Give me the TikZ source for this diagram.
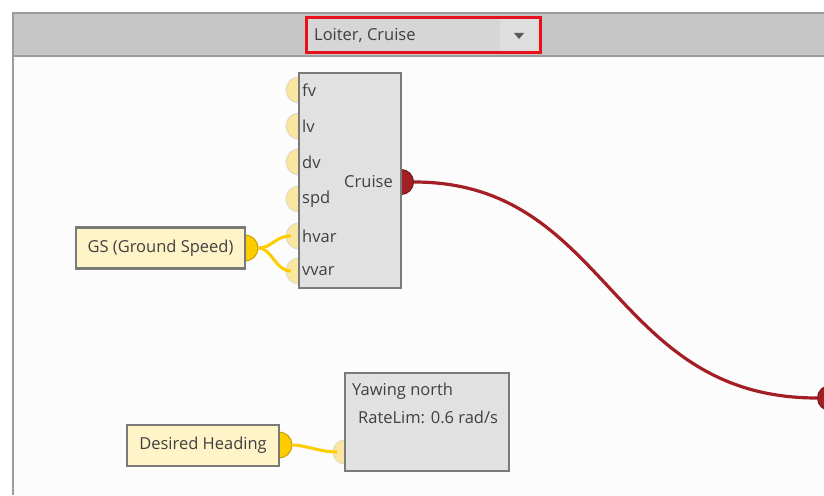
\documentclass[tikz,border=0pt]{standalone}
\usepackage{fontspec}
\setmainfont{Open Sans}
\usepackage{xcolor}
\usetikzlibrary{positioning,calc}

\definecolor{hdrgray}{HTML}{C6C6C6}
\definecolor{framegray}{HTML}{9C9C9C}
\definecolor{canvasbg}{HTML}{FCFCFC}
\definecolor{boxfill}{HTML}{E1E1E1}
\definecolor{boxline}{HTML}{7A7A7A}
\definecolor{inport}{HTML}{FAE6A0}
\definecolor{inportline}{HTML}{E2DBBE}
\definecolor{gold}{HTML}{FFCC00}
\definecolor{goldline}{HTML}{C9A200}
\definecolor{srcfill}{HTML}{FFF3C8}
\definecolor{wirered}{HTML}{A31F24}
\definecolor{ddred}{HTML}{E8101A}
\definecolor{txtgray}{HTML}{404040}

\tikzset{
  blockbox/.style={draw=boxline, line width=2.4pt, fill=boxfill},
  srcbox/.style={draw=boxline, line width=2.4pt, fill=srcfill, text=txtgray,
    minimum height=41pt, inner sep=0pt, font=\fontsize{16.5}{19}\selectfont},
  inputport/.style={circle, fill=inport, draw=inportline, line width=1pt, minimum size=26pt, inner sep=0pt},
  srcport/.style={circle, fill=gold, draw=goldline, line width=1pt, minimum size=26pt, inner sep=0pt},
  outport/.style={circle, fill=wirered, draw=wirered!70!black, line width=1pt, minimum size=25pt, inner sep=0pt},
  portlabel/.style={anchor=west, inner sep=0pt, text=txtgray, font=\fontsize{16.5}{19}\selectfont},
  yellowwire/.style={draw=gold, line width=3pt},
  redwire/.style={draw=wirered, line width=3.2pt}
}

\begin{document}
\begin{tikzpicture}[x=1pt,y=-1pt]
  \useasboundingbox (0,0) rectangle (824,495);
  % window frame and header
  \fill[white] (0,0) rectangle (824,495);
  \fill[canvasbg] (13,56) rectangle (824,495);
  \fill[hdrgray] (13,13) rectangle (824,56);
  \draw[framegray, line width=2pt] (824,13) -- (13,13) -- (13,495);
  \draw[framegray, line width=1.6pt] (13,56) -- (824,56);
  % mode dropdown
  \fill[black!16] (306,18) rectangle (540,53);
  \fill[black!13] (500,18) rectangle (540,53);
  \draw[ddred, line width=3pt] (306,18) rectangle (540,53);
  \node[anchor=west, inner sep=0pt, text=txtgray, font=\fontsize{16.5}{19}\selectfont] (mode) at (314,36) {Loiter, Cruise};
  \fill[black!65] (514,33) -- (524,33) -- (519,39) -- cycle;

  % Cruise block inputs
  \foreach \nm/\yy in {fv/90,lv/126,dv/162,spd/199,hvar/236,vvar/271}
    \node[inputport] (\nm) at (299,\yy) {};
  \node[outport] (cruiseout) at (401,182) {};
  \node[srcport] (gsout) at (245,248) {};
  \node[srcport] (headout) at (279,445) {};
  \node[inputport, minimum size=24pt] (yawin) at (345,452) {};
  \node[outport] (farport) at (830,398) {};

  % wires
  \draw[yellowwire] (gsout.east) .. controls (272,248) and (275,236) .. ($(hvar.center)+(-8,0)$);
  \draw[yellowwire] (gsout.east) .. controls (272,248) and (275,271) .. ($(vvar.center)+(-8,0)$);
  \draw[yellowwire] (headout.east) .. controls (305,445) and (320,452) .. ($(yawin.center)+(-8,0)$);
  \draw[redwire] (cruiseout.east) .. controls (610,182) and (610,398) .. (farport.west);

  % blocks
  \draw[blockbox] (299,73) rectangle (401,288);
  \foreach \nm in {fv,lv,dv,spd,hvar,vvar}
    \node[portlabel] (\nm lbl) at ($(\nm.center)+(3,0)$) {\nm};
  \node[portlabel, anchor=east] (cruiselbl) at (393,182) {Cruise};

  \draw[blockbox] (345,373) rectangle (509,471);
  \node[portlabel] (yawlbl) at (352,391) {Yawing north};
  \node[portlabel] (ratelbl) at (358,417) {RateLim: 0.6 rad/s};

  \node[srcbox, minimum width=169pt] (gs) at (160.5,248) {GS (Ground Speed)};
  \node[srcbox, minimum width=152pt] (heading) at (203,445.5) {Desired Heading};
\end{tikzpicture}
\end{document}
